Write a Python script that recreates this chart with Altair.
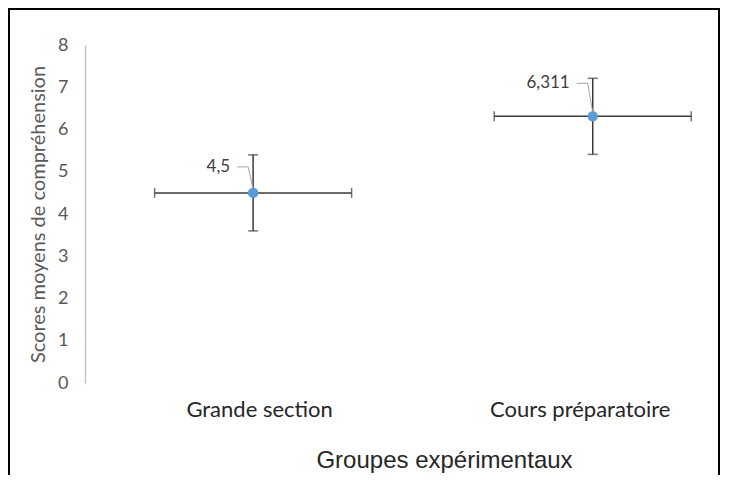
import altair as alt
import pandas as pd

groups = ["Grande section", "Cours préparatoire"]
group_pos = [1, 2]
means = [4.5, 6.311]
y_err = [0.9, 0.9]
x_err = [0.29, 0.29]
labels = ["4,5", "6,311"]
y_ticks = [0, 1, 2, 3, 4, 5, 6, 7, 8]

df = pd.DataFrame({
    "group": groups,
    "x": group_pos,
    "mean": means,
    "yerr": y_err,
    "xerr": x_err,
    "label": labels,
})

W, H = 630, 338
XDOM = [0.505, 2.36]
YDOM = [0, 8]
PX_X = W / (XDOM[1] - XDOM[0])
PX_Y = H / (YDOM[1] - YDOM[0])

cal = "Lato"
dark = "#3a3a3a"
grey_txt = "#595959"

xs = alt.Scale(domain=XDOM, nice=False, zero=False)
ys = alt.Scale(domain=YDOM, nice=False, zero=True)

base = alt.Chart(df).transform_calculate(
    ylo="datum.mean - datum.yerr",
    yhi="datum.mean + datum.yerr",
    xlo="datum.x - datum.xerr",
    xhi="datum.x + datum.xerr",
    lift=f"(datum.mean < 5 ? 26 : 33) / {PX_Y}",
    ly="datum.mean + datum.lift",
    lx1=f"datum.x - 16 / {PX_X}",
    lx2=f"datum.x - 5 / {PX_X}",
    ptop=f"datum.mean + 4 / {PX_Y}",
)

# category label anchors (slightly off the point centres, as in the original)
label_vals = [group_pos[0] + 6 / PX_X, group_pos[1] - 13 / PX_X]

x_enc = alt.X(
    "x:Q", scale=xs,
    axis=alt.Axis(
        values=label_vals,
        labelExpr="datum.value < 1.5 ? 'Grande section' : 'Cours préparatoire'",
        domain=False, ticks=False, grid=False, labelLimit=400, labelOverlap=False,
        labelFont=cal, labelFontSize=22, labelColor="#262626", labelPadding=16,
        title="Groupes expérimentaux", titleFont="Liberation Sans", titleFontSize=24,
        titleFontWeight="normal", titleColor="#262626", titlePadding=28,
        titleX=359,
    ),
)
y_enc = alt.Y(
    "mean:Q", scale=ys,
    axis=alt.Axis(
        values=y_ticks, domain=True, domainColor="#bfbfbf", domainWidth=1.3,
        ticks=False, grid=False,
        labelFont=cal, labelFontSize=18, labelColor=grey_txt, labelPadding=17,
        title="Scores moyens de compréhension", titleFont=cal, titleFontSize=20,
        titleFontWeight="normal", titleColor=grey_txt, titlePadding=9,
    ),
)

vrule = base.mark_rule(color=dark, strokeWidth=1.5).encode(
    x=x_enc, y=alt.Y("ylo:Q", scale=ys), y2="yhi:Q")
hrule = base.mark_rule(color=dark, strokeWidth=1.5).encode(
    x=alt.X("xlo:Q", scale=xs), x2="xhi:Q", y=y_enc)
cap_lo = base.mark_tick(color=dark, orient="horizontal", size=10, thickness=1.5).encode(
    x=alt.X("x:Q", scale=xs), y=alt.Y("ylo:Q", scale=ys))
cap_hi = base.mark_tick(color=dark, orient="horizontal", size=10, thickness=1.5).encode(
    x=alt.X("x:Q", scale=xs), y=alt.Y("yhi:Q", scale=ys))
cap_l = base.mark_tick(color=dark, orient="vertical", size=10, thickness=1.5).encode(
    x=alt.X("xlo:Q", scale=xs), y=alt.Y("mean:Q", scale=ys))
cap_r = base.mark_tick(color=dark, orient="vertical", size=10, thickness=1.5).encode(
    x=alt.X("xhi:Q", scale=xs), y=alt.Y("mean:Q", scale=ys))

lead_h = base.mark_rule(color="#a6a6a6", strokeWidth=1).encode(
    x=alt.X("lx1:Q", scale=xs), x2="lx2:Q", y=alt.Y("ly:Q", scale=ys))
lead_d = base.mark_rule(color="#a6a6a6", strokeWidth=1).encode(
    x=alt.X("lx2:Q", scale=xs), x2="x:Q", y=alt.Y("ly:Q", scale=ys), y2="ptop:Q")
lab = base.mark_text(font=cal, fontSize=17, color="#404040", align="right",
                     baseline="middle", dx=-23, dy=0).encode(
    x=alt.X("x:Q", scale=xs), y=alt.Y("ly:Q", scale=ys), text="label:N")

pts = base.mark_circle(color="#5b9bd5", opacity=1, size=110).encode(
    x=alt.X("x:Q", scale=xs), y=alt.Y("mean:Q", scale=ys))

border = alt.Chart(df).mark_rule(color="black", strokeWidth=2).encode(
    x=alt.value(-76), x2=alt.value(-76), y=alt.value(-37), y2=alt.value(440))
border_t = alt.Chart(df).mark_rule(color="black", strokeWidth=2).encode(
    x=alt.value(-77), x2=alt.value(W + 5), y=alt.value(-36), y2=alt.value(-36))
border_r = alt.Chart(df).mark_rule(color="black", strokeWidth=2).encode(
    x=alt.value(W + 4), x2=alt.value(W + 4), y=alt.value(-37), y2=alt.value(440))

chart = alt.layer(
    hrule, vrule, cap_lo, cap_hi, cap_l, cap_r, lead_h, lead_d, lab, pts,
    border, border_t, border_r,
).properties(
    width=W, height=H,
    background="white",
    autosize=alt.AutoSizeParams(type="none"),
    padding={"left": 77, "top": 37, "right": 6, "bottom": 92},
).configure_view(stroke=None)

chart.save("out.html", embed_options={"renderer": "svg", "actions": False})
